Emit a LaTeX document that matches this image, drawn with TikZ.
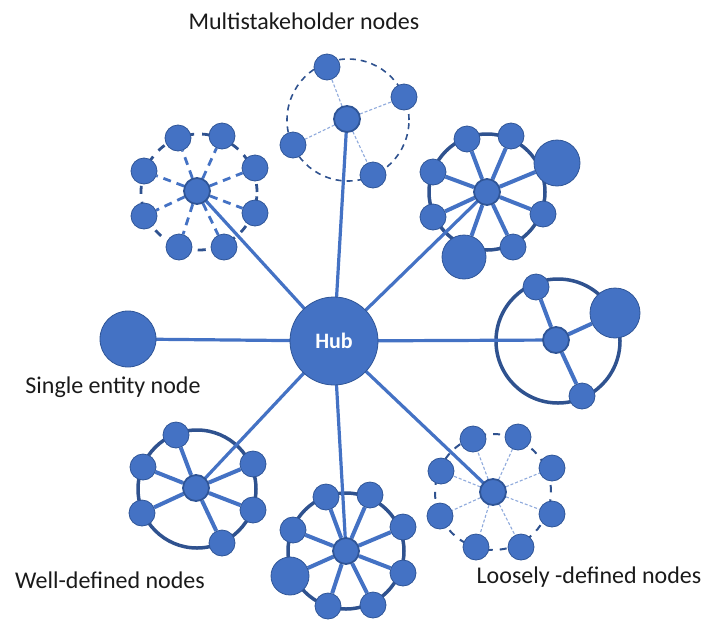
\documentclass[tikz,border=0pt]{standalone}
\usepackage{fontspec}
\setmainfont{Carlito}
\usetikzlibrary{backgrounds}
\definecolor{nodeblue}{HTML}{4472C4}
\definecolor{edgeblue}{HTML}{2F5597}
\definecolor{ringblue}{HTML}{2F528F}
\definecolor{lightspoke}{HTML}{8FAADC}
\definecolor{txt}{HTML}{1A1A1A}
\tikzset{
  x=1pt,y=-1pt,
  sat/.style={circle, fill=nodeblue, draw=edgeblue, line width=0.8pt, minimum size=26pt, inner sep=0pt},
  ctr/.style={sat, line width=1.8pt},
  hubline/.style={draw=nodeblue, line width=3.2pt},
  solidring/.style={draw=ringblue, line width=3.5pt},
  solidspoke/.style={draw=nodeblue, line width=4pt},
  dashring/.style={draw=ringblue, line width=1.6pt, dash pattern=on 6pt off 5pt},
  thickdashring/.style={draw=ringblue, line width=2.8pt, dash pattern=on 8pt off 8pt},
  thickdashspoke/.style={draw=nodeblue, line width=2.8pt, dash pattern=on 8pt off 6pt},
  thinspoke/.style={draw=lightspoke, line width=1.1pt, dash pattern=on 3pt off 2pt},
  lbl/.style={font=\fontsize{24}{28}\selectfont, text=txt, inner sep=0pt}
}
\begin{document}
\begin{tikzpicture}
\useasboundingbox (0,0) rectangle (707,619);

% hub and single node
\node[circle, fill=nodeblue, draw=edgeblue, line width=0.8pt, minimum size=88pt, inner sep=0pt, text=white, font=\fontsize{22}{26}\selectfont\bfseries] (hub) at (334,341) {Hub};
\node[sat, minimum size=56pt] (single) at (128,339) {};

% ---- top cluster (multistakeholder)
\node[ctr] (t0) at (347,119) {};
\node[sat] (t1) at (327,67) {};
\node[sat] (t2) at (404,97) {};
\node[sat] (t3) at (293,145) {};
\node[sat] (t4) at (373,175) {};

% ---- top-left cluster
\node[ctr] (a0) at (197,191) {};
\node[sat] (a1) at (178,138) {};
\node[sat] (a2) at (222,136) {};
\node[sat] (a3) at (255,168) {};
\node[sat] (a4) at (255,213) {};
\node[sat] (a5) at (224,247) {};
\node[sat] (a6) at (179,247) {};
\node[sat] (a7) at (144,216) {};
\node[sat] (a8) at (144,171) {};

% ---- top-right cluster
\node[ctr] (b0) at (487,192) {};
\node[sat] (b1) at (467,139) {};
\node[sat] (b2) at (511,136) {};
\node[sat, minimum size=46pt] (b3) at (557,163) {};
\node[sat] (b4) at (543,214) {};
\node[sat] (b5) at (513,247) {};
\node[sat, minimum size=44pt] (b6) at (464,257) {};
\node[sat] (b7) at (433,217) {};
\node[sat] (b8) at (433,172) {};

% ---- right cluster
\node[ctr] (r0) at (556,340) {};
\node[sat] (r1) at (536,287) {};
\node[sat, minimum size=50pt] (r2) at (615,313) {};
\node[sat] (r3) at (582,396) {};

% ---- bottom-right cluster (loosely)
\node[ctr] (l0) at (493,492) {};
\node[sat] (l1) at (473,439) {};
\node[sat] (l2) at (518,437) {};
\node[sat] (l3) at (552,468) {};
\node[sat] (l4) at (552,514) {};
\node[sat] (l5) at (521,547) {};
\node[sat] (l6) at (476,547) {};
\node[sat] (l7) at (440,516) {};
\node[sat] (l8) at (441,471) {};

% ---- bottom-left cluster (well-defined)
\node[ctr] (w0) at (196,488) {};
\node[sat] (w1) at (176,435) {};
\node[sat] (w2) at (143,467) {};
\node[sat] (w3) at (142,513) {};
\node[sat] (w4) at (222,543) {};
\node[sat] (w5) at (253,510) {};
\node[sat] (w6) at (253,464) {};

% ---- bottom-center cluster
\node[ctr] (m0) at (346,551) {};
\node[sat] (m1) at (326,497) {};
\node[sat] (m2) at (370,495) {};
\node[sat] (m3) at (403,527) {};
\node[sat] (m4) at (403,573) {};
\node[sat] (m5) at (373,605) {};
\node[sat] (m6) at (328,606) {};
\node[sat, minimum size=38pt] (m7) at (290,576) {};
\node[sat] (m8) at (293,530) {};

\begin{pgfonlayer}{background}
  % rings
  \draw[dashring] (348,120) circle[radius=61pt];
  \draw[thickdashring] (199,192) circle[radius=58pt];
  \draw[solidring] (b0.center) circle[radius=58pt];
  \draw[solidring] (558,341) circle[radius=62pt];
  \draw[dashring, line width=2pt, dash pattern=on 7pt off 7pt] (l0.center) circle[radius=58pt];
  \draw[solidring] (197,489) circle[radius=59pt];
  \draw[solidring] (m0.center) circle[radius=58pt];
  % spokes
  \foreach \i in {1,...,4} \draw[thinspoke] (t0) -- (t\i);
  \foreach \i in {1,...,8} \draw[thickdashspoke] (a0) -- (a\i);
  \foreach \i in {1,...,8} \draw[solidspoke] (b0) -- (b\i);
  \foreach \i in {1,...,3} \draw[solidspoke] (r0) -- (r\i);
  \foreach \i in {1,...,8} \draw[thinspoke] (l0) -- (l\i);
  \foreach \i in {1,...,6} \draw[solidspoke] (w0) -- (w\i);
  \foreach \i in {1,...,8} \draw[solidspoke] (m0) -- (m\i);
  % hub lines
  \foreach \c in {single,t0,a0,b0,r0,l0,w0,m0} \draw[hubline] (hub.center) -- (\c.center);
\end{pgfonlayer}

% labels
\node[lbl] (lt) at (304,21) {Multistakeholder nodes};
\node[lbl] (ls) at (113,387) {Single entity node};
\node[lbl] (lw) at (110,580) {Well-defined nodes};
\node[lbl] (ll) at (589,577) {Loosely -defined nodes};
\end{tikzpicture}
\end{document}
